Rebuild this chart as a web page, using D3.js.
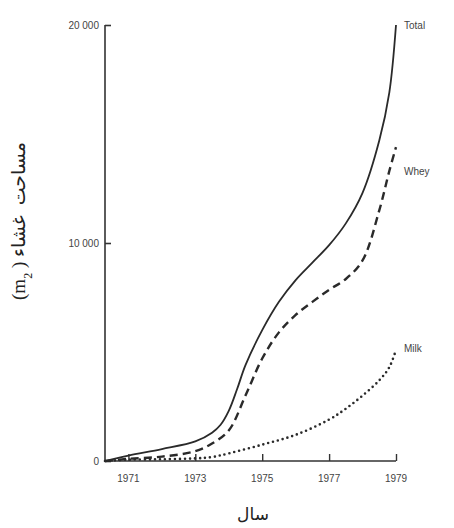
<!DOCTYPE html>
<html>
<head>
<meta charset="utf-8">
<script src="https://cdn.jsdelivr.net/npm/d3@7"></script>
<style>
  html, body { margin: 0; padding: 0; background: #fff; }
  svg { display: block; }
  .tick-label { font-family: 'Liberation Sans', sans-serif; font-size: 10px; fill: #444; }
  .series-label { font-family: 'Liberation Sans', sans-serif; font-size: 10px; fill: #444; }
  .fa { font-family: 'DejaVu Sans', serif; fill: #222; }
</style>
</head>
<body>
<div id="chart"></div>
<script>
const yearTicks = [1971, 1973, 1975, 1977, 1979];
const areaTicks = [0, 10000, 20000];

const totalYears = [1970.3, 1971, 1972, 1973, 1973.5, 1973.75, 1974, 1974.25, 1974.5, 1975, 1975.5, 1976, 1976.5, 1977, 1977.5, 1978, 1978.5, 1978.8, 1979];
const totalArea = [0, 250, 550, 900, 1300, 1650, 2300, 3300, 4400, 6000, 7300, 8300, 9100, 9900, 10900, 12300, 14700, 16900, 20000];

const wheyYears = [1970.3, 1971, 1972, 1973, 1973.5, 1974, 1974.5, 1975, 1975.5, 1976, 1976.5, 1977, 1977.5, 1978, 1978.5, 1978.8, 1979];
const wheyArea = [0, 100, 200, 450, 800, 1400, 3000, 4700, 5900, 6700, 7300, 7850, 8350, 9200, 11500, 13300, 14400];

const milkYears = [1970.3, 1971, 1972, 1973, 1973.5, 1974, 1975, 1976, 1977, 1977.5, 1978, 1978.5, 1978.8, 1979];
const milkArea = [0, 60, 80, 120, 180, 350, 750, 1200, 1900, 2400, 3000, 3700, 4300, 5100];

const series = [
  { name: 'Total', years: totalYears, values: totalArea, dash: null, width: 1.8, dy: 4 },
  { name: 'Whey', years: wheyYears, values: wheyArea, dash: '8,5', width: 2.4, dy: 28 },
  { name: 'Milk', years: milkYears, values: milkArea, dash: '0,5', width: 2.6, dy: 2 },
];

const width = 454, height = 528;
const svg = d3.select('#chart').append('svg')
  .attr('width', width)
  .attr('height', height);

const x = d3.scaleLinear().domain([1970.3, 1979]).range([105, 396]);
const y = d3.scaleLinear().domain([0, 20000]).range([461, 25]);

// y axis
svg.append('g')
  .attr('transform', 'translate(105,0)')
  .call(d3.axisRight(y).tickValues(areaTicks).tickSize(6).tickFormat(''))
  .call(g => g.selectAll('line, path').attr('stroke', '#333').attr('stroke-width', 1.6))
  .call(g => g.select('.domain').attr('d', `M0,${y(20000)}V${y(0)}`));

svg.append('g')
  .selectAll('text')
  .data(areaTicks)
  .join('text')
  .attr('class', 'tick-label')
  .attr('x', 99)
  .attr('y', d => y(d))
  .attr('dy', '0.35em')
  .attr('text-anchor', 'end')
  .text(d => d === 0 ? '0' : d3.format(',')(d).replace(',', ' '));

// x axis
svg.append('g')
  .attr('transform', `translate(0,${y(0)})`)
  .call(d3.axisTop(x).tickValues(yearTicks).tickSize(7).tickFormat(''))
  .call(g => g.selectAll('line, path').attr('stroke', '#333').attr('stroke-width', 1.4))
  .call(g => g.select('.domain').attr('d', `M${x(1970.3)},0H${x(1979)}`));

svg.append('g')
  .selectAll('text')
  .data(yearTicks)
  .join('text')
  .attr('class', 'tick-label')
  .attr('x', d => x(d))
  .attr('y', 482)
  .attr('text-anchor', 'middle')
  .text(d => d);

// lines
const line = d3.line()
  .x(d => x(d[0]))
  .y(d => y(d[1]))
  .curve(d3.curveCatmullRom.alpha(0.5));

series.forEach(s => {
  const pts = s.years.map((yr, i) => [yr, s.values[i]]);
  svg.append('path')
    .datum(pts)
    .attr('fill', 'none')
    .attr('stroke', '#2a2a2a')
    .attr('stroke-width', s.width)
    .attr('stroke-linecap', s.name === 'Milk' ? 'round' : 'butt')
    .attr('stroke-dasharray', s.dash)
    .attr('d', line);
});

// series labels
svg.append('g')
  .selectAll('text')
  .data(series)
  .join('text')
  .attr('class', 'series-label')
  .attr('x', s => x(s.years[s.years.length - 1]) + 8)
  .attr('y', s => y(s.values[s.values.length - 1]) + s.dy)
  .text(s => s.name);

// axis titles
svg.append('text')
  .attr('class', 'fa')
  .attr('font-size', 17)
  .attr('x', 253)
  .attr('y', 520)
  .attr('text-anchor', 'middle')
  .attr('direction', 'rtl')
  .text('سال');

const yt = svg.append('text')
  .attr('class', 'fa')
  .attr('font-size', 19)
  .attr('transform', 'translate(25,221) rotate(-90)')
  .attr('text-anchor', 'middle');
yt.append('tspan').attr('font-family', 'Liberation Serif').text('(m');
yt.append('tspan').attr('font-family', 'Liberation Serif').attr('baseline-shift', 'sub').attr('font-size', 12).text('2');
yt.append('tspan').attr('font-family', 'Liberation Serif').text(' ) ');
yt.append('tspan').attr('direction', 'rtl').attr('word-spacing', 4).text('مساحت غشاء');
</script>
</body>
</html>
